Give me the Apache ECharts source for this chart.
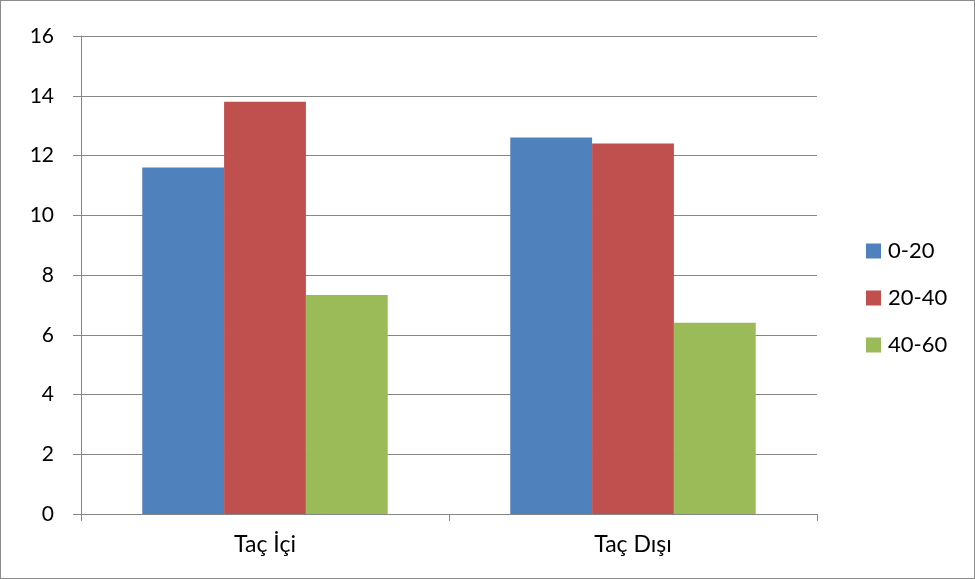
<!DOCTYPE html>
<html>
<head>
<meta charset="utf-8">
<script src="https://cdn.jsdelivr.net/npm/echarts@6/dist/echarts.min.js"></script>
<style>
  html, body { margin: 0; padding: 0; background: #fff; }
  #chart { width: 975px; height: 579px; box-sizing: border-box; border: 1px solid #8c8c8c; }
</style>
</head>
<body>
<div id="chart"></div>
<script>
// Categories (crown position) and depth classes
const categories = ['Taç İçi', 'Taç Dışı'];
const seriesNames = ['0-20', '20-40', '40-60'];
const values020 = [11.6, 12.6];
const values2040 = [13.8, 12.4];
const values4060 = [7.33, 6.4];
const yTicks = { min: 0, max: 16, interval: 2 };

const colors = ['#4F81BD', '#C0504D', '#9BBB59'];
const fontFamily = 'Lato, "Open Sans", sans-serif';

const chart = echarts.init(document.getElementById('chart'), null, { renderer: 'canvas' });
const dataSets = [values020, values2040, values4060];

chart.setOption({
  animation: false,
  color: colors,
  textStyle: { fontFamily: fontFamily },
  grid: { left: 80, right: 157, top: 35, bottom: 64, containLabel: false },
  legend: {
    orient: 'vertical',
    left: 860,
    top: 234,
    icon: 'rect',
    itemWidth: 15,
    itemHeight: 15,
    itemGap: 25,
    textStyle: { fontSize: 22, color: '#000', fontFamily: fontFamily, padding: [0, 0, 0, 2] },
    data: seriesNames
  },
  xAxis: {
    type: 'category',
    data: categories,
    boundaryGap: true,
    axisLine: { show: true, lineStyle: { color: '#868686', width: 1 } },
    axisTick: { show: true, interval: 0, length: 7, lineStyle: { color: '#868686' } },
    axisLabel: { fontSize: 23, color: '#000', margin: 19, fontFamily: fontFamily },
    splitLine: { show: false }
  },
  yAxis: {
    type: 'value',
    min: yTicks.min,
    max: yTicks.max,
    interval: yTicks.interval,
    axisLine: { show: true, lineStyle: { color: '#868686', width: 1 } },
    axisTick: { show: true, length: 8, lineStyle: { color: '#868686' } },
    axisLabel: { fontSize: 21, color: '#000', margin: 27, fontFamily: fontFamily },
    splitLine: { show: true, lineStyle: { color: '#868686', width: 1 } }
  },
  series: seriesNames.map((name, i) => ({
    name: name,
    type: 'bar',
    data: dataSets[i],
    barGap: '0%',
    barCategoryGap: '33.3%',
    itemStyle: { color: colors[i] }
  }))
});
</script>
</body>
</html>
